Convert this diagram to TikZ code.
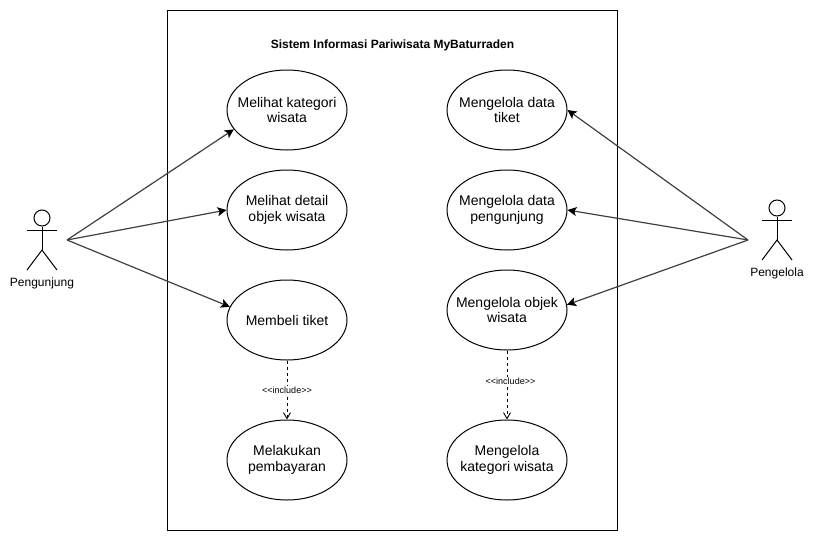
\documentclass[tikz,border=0pt]{standalone}
\usepackage{fontspec}
\setmainfont{Liberation Sans}
\usetikzlibrary{arrows.meta,shapes.geometric}
\tikzset{
  usecase/.style={draw,ellipse,minimum width=120pt,minimum height=80pt,inner xsep=-15pt,inner ysep=-8pt,align=center,
    font=\fontsize{14}{15.5}\selectfont},
  actorhead/.style={draw,circle,minimum size=16pt,inner sep=0pt},
  actorlabel/.style={font=\fontsize{12}{14}\selectfont},
  assoc/.style={draw=black!75,line width=1.2pt,-{Stealth[length=9pt,width=9pt,inset=2pt,black]}},
  incl/.style={line width=0.9pt,dash pattern=on 3pt off 3pt,-{Straight Barb[length=6pt,width=7pt]}},
  incllabel/.style={fill=white,inner sep=1pt,font=\fontsize{9}{10}\selectfont},
}
\begin{document}
\begin{tikzpicture}[x=1pt,y=-1pt,line width=1pt]
      \useasboundingbox (0,0) rectangle (814,541);
      \node[draw,minimum width=450pt,minimum height=520pt,inner sep=0pt] (system) at (392,270) {};
      \node[font=\bfseries\fontsize{12}{14}\selectfont] (title) at (392.5,45) {Sistem Informasi Pariwisata MyBaturraden};
      % use cases
      \node[usecase] (kategori) at (287,110) {Melihat kategori\\wisata};
      \node[usecase] (detail) at (287,210) {Melihat detail\\objek wisata};
      \node[usecase] (beli) at (287,320) {Membeli tiket};
      \node[usecase] (bayar) at (287,460) {Melakukan\\pembayaran};
      \node[usecase] (tiket) at (507,110) {Mengelola data\\tiket};
      \node[usecase] (pengunjung) at (507,210) {Mengelola data\\pengunjung};
      \node[usecase] (objek) at (507,310) {Mengelola objek\\wisata};
      \node[usecase] (kelolakat) at (507,460) {Mengelola\\kategori wisata};
      % actors
      \node[actorhead] (head1) at (42,218) {};
      \coordinate (hip1) at (42,250);
      \coordinate (arml1) at (27,230);
      \coordinate (armr1) at (57,230);
      \coordinate (footl1) at (27,270);
      \coordinate (footr1) at (57,270);
      \coordinate (from1) at (67,240);
      \node[actorlabel] (label1) at (42,283.5) {Pengunjung};
      \draw (head1) to (hip1);
      \draw (arml1) to (armr1);
      \draw (footl1) to (hip1) to (footr1);
      \node[actorhead] (head2) at (777,208) {};
      \coordinate (hip2) at (777,240);
      \coordinate (arml2) at (762,220);
      \coordinate (armr2) at (792,220);
      \coordinate (footl2) at (762,260);
      \coordinate (footr2) at (792,260);
      \coordinate (from2) at (748,240);
      \node[actorlabel] (label2) at (777,273.5) {Pengelola};
      \draw (head2) to (hip2);
      \draw (arml2) to (armr2);
      \draw (footl2) to (hip2) to (footr2);
      % connectors
      \begin{scope}[assoc]
        \draw (from1) to (kategori.200);
        \draw (from1) to (detail.west);
        \draw (from1) to (beli.167);
        \draw (from2) to (tiket.east);
        \draw (from2) to (pengunjung.east);
        \draw (from2) to (objek.5);
      \end{scope}
      \draw[incl] (beli) to node[incllabel] (inc1) {<{}<include>{}>} (bayar);
      \draw[incl] (objek) to node[incllabel,pos=0.45,xshift=3.5pt] (inc2) {<{}<include>{}>} (kelolakat);
    \end{tikzpicture}
\end{document}
